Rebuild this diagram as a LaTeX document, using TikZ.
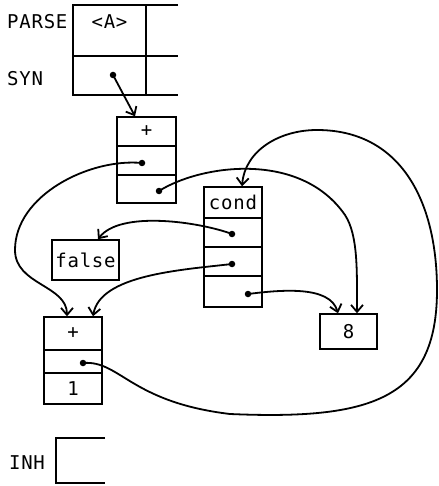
\documentclass[tikz,border=0pt]{standalone}
\usepackage{fontspec}
\newfontfamily\mono[LetterSpace=4]{DejaVu Sans Mono}
\usetikzlibrary{arrows.meta,calc}
\tikzset{
  cell/.style={draw, line width=1.5pt, inner sep=0pt, font=\mono\fontsize{19}{21}\selectfont},
  lbl/.style={inner sep=0pt, font=\mono\fontsize{19}{21}\selectfont},
  dot/.style={circle, fill=black, inner sep=0pt, minimum size=6.5pt},
  conn/.style={line width=1.8pt, -{Straight Barb[length=7pt,width=12pt,line width=1.8pt]}},
  frame/.style={line width=1.5pt}
}
\begin{document}
\begin{tikzpicture}[x=1pt,y=-1pt]
\useasboundingbox (0,0) rectangle (438,486);
% PARSE / SYN table
\draw[frame] (178,5) -- (73,5) -- (73,95) -- (178,95);
\draw[frame] (73,56) -- (178,56);
\draw[frame] (146,5) -- (146,95);
\node[lbl, anchor=west] (parse) at (7,22) {PARSE};
\node[lbl, anchor=west] (syn) at (7,79) {SYN};
\node[lbl] (avar) at (109.5,22) {<A>};
\node[dot] (dsyn) at (113,75) {};
% upper + box
\node[cell, minimum width=59pt, minimum height=29pt] (ua) at (146.5,131.5) {+};
\node[cell, minimum width=59pt, minimum height=29pt] (ub) at (146.5,160.5) {};
\node[cell, minimum width=59pt, minimum height=28pt] (uc) at (146.5,189) {};
\node[dot] (dub) at (142,163) {};
\node[dot] (duc) at (159,191) {};
% cond box
\node[cell, minimum width=58pt, minimum height=31pt] (c1) at (233,202.5) {cond};
\node[cell, minimum width=58pt, minimum height=29pt] (c2) at (233,232.5) {};
\node[cell, minimum width=58pt, minimum height=29pt] (c3) at (233,261.5) {};
\node[cell, minimum width=58pt, minimum height=31pt] (c4) at (233,291.5) {};
\node[dot] (dc2) at (232,234) {};
\node[dot] (dc3) at (232,264) {};
\node[dot] (dc4) at (248,294) {};
% false
\node[cell, minimum width=67pt, minimum height=40pt] (fls) at (85.5,260) {false};
% lower + box
\node[cell, minimum width=58pt, minimum height=33pt] (l1) at (73,333.5) {+};
\node[cell, minimum width=58pt, minimum height=23pt] (l2) at (73,361.5) {};
\node[cell, minimum width=58pt, minimum height=31pt] (l3) at (73,388.5) {1};
\node[dot] (dl2) at (83,363) {};
% 8 box
\node[cell, minimum width=57pt, minimum height=35pt] (eight) at (348.5,331.5) {8};
% INH
\node[lbl] (inh) at (27,463) {INH};
\draw[frame] (105,438) -- (56,438) -- (56,483) -- (105,483);
% connectors
\draw[conn] (dsyn.center) -- ([xshift=-11.5pt]ua.north);
\draw[conn] (dub.center) .. controls (90,158) and (15,195) .. (15,250)
  .. controls (15,285) and (67,285) .. ([xshift=-6pt]l1.north);
\draw[conn] (duc.center) .. controls (200,165) and (300,150) .. (345,215)
  .. controls (358,235) and (357,270) .. ([xshift=8.5pt]eight.north);
\draw[conn] (dc2.center) .. controls (200,222) and (120,210) .. ([xshift=12.5pt]fls.north);
\draw[conn] (dc3.center) .. controls (180,270) and (100,275) .. ([xshift=20pt]l1.north);
\draw[conn] (dc4.center) .. controls (280,290) and (330,285) .. ([xshift=-10.5pt]eight.north);
\draw[conn] (dl2.center) .. controls (120,360) and (130,402) .. (230,414)
  .. controls (370,420) and (437,400) .. (437,290)
  .. controls (437,200) and (400,130) .. (317,130)
  .. controls (280,130) and (245,150) .. ([xshift=9pt]c1.north);
\end{tikzpicture}
\end{document}
